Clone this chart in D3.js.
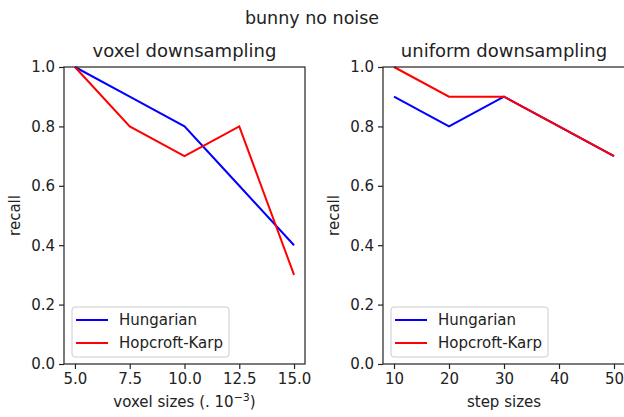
<!DOCTYPE html>
<html>
<head>
<meta charset="utf-8">
<script src="https://cdn.jsdelivr.net/npm/d3@7"></script>
<style>
body { margin: 0; background: #fff; }
text { font-family: "DejaVu Sans", sans-serif; fill: #222; }
.axis path, .axis line { stroke: #222; stroke-width: 1.2; }
.axis text { font-size: 15px; fill: #222; }
</style>
</head>
<body>
<svg id="chart" width="624" height="417"></svg>
<script>
// data
var voxelSizes = [5.0, 7.5, 10.0, 12.5, 15.0];
var voxelHungarian = [1.0, 0.9, 0.8, 0.6, 0.4];
var voxelHopcroft = [1.0, 0.8, 0.7, 0.8, 0.3];

var stepSizes = [10, 20, 30, 40, 50];
var stepHungarian = [0.9, 0.8, 0.9, 0.8, 0.7];
var stepHopcroft = [1.0, 0.9, 0.9, 0.8, 0.7];

var voxelTicks = [5.0, 7.5, 10.0, 12.5, 15.0];
var stepTicks = [10, 20, 30, 40, 50];
var yTicks = [0.0, 0.2, 0.4, 0.6, 0.8, 1.0];
var seriesNames = ["Hungarian", "Hopcroft-Karp"];
var seriesColors = ["#0000ff", "#ff0000"];

var svg = d3.select("#chart");

// figure title
svg.append("text")
  .attr("x", 312)
  .attr("y", 24)
  .style("text-anchor", "middle")
  .style("font-size", "17.5px")
  .text("bunny no noise");

function drawPanel(opt) {
  var top = 67, bottom = 364;
  var x = d3.scaleLinear().domain(opt.xDomain).range([opt.left, opt.right]);
  var y = d3.scaleLinear().domain([0, 1]).range([bottom, top]);

  var g = svg.append("g");

  // lines
  var line = d3.line()
    .x(function(d) { return x(d[0]); })
    .y(function(d) { return y(d[1]); });

  opt.series.forEach(function(s, i) {
    var pts = opt.xs.map(function(v, j) { return [v, s[j]]; });
    g.append("path")
      .datum(pts)
      .attr("fill", "none")
      .attr("stroke", seriesColors[i])
      .attr("stroke-width", 2)
      .attr("d", line);
  });

  // frame
  g.append("rect")
    .attr("x", opt.left)
    .attr("y", top)
    .attr("width", opt.right - opt.left)
    .attr("height", bottom - top)
    .attr("fill", "none")
    .attr("stroke", "#222")
    .attr("stroke-width", 1.2);

  // axes
  g.append("g")
    .attr("class", "axis")
    .attr("transform", "translate(0," + bottom + ")")
    .call(d3.axisBottom(x).tickValues(opt.xTicks).tickFormat(opt.xFormat).tickSizeOuter(0).tickSize(5).tickPadding(4))
    .select(".domain").remove();

  g.append("g")
    .attr("class", "axis")
    .attr("transform", "translate(" + opt.left + ",0)")
    .call(d3.axisLeft(y).tickValues(yTicks).tickFormat(d3.format(".1f")).tickSizeOuter(0).tickSize(5).tickPadding(4))
    .select(".domain").remove();

  // title
  g.append("text")
    .attr("x", (opt.left + opt.right) / 2)
    .attr("y", 57)
    .style("text-anchor", "middle")
    .style("font-size", "18px")
    .text(opt.title);

  // y label
  g.append("text")
    .attr("transform", "translate(" + (opt.left - 44) + "," + ((top + bottom) / 2) + ") rotate(-90)")
    .style("text-anchor", "middle")
    .style("font-size", "15px")
    .text("recall");

  // x label
  var xl = g.append("text")
    .attr("x", (opt.left + opt.right) / 2)
    .attr("y", 407)
    .style("text-anchor", "middle")
    .style("font-size", "15px");
  opt.xLabel(xl);

  // legend
  var lx = opt.left + 8, ly = 307;
  g.append("rect")
    .attr("x", lx)
    .attr("y", ly)
    .attr("width", 157)
    .attr("height", 50)
    .attr("rx", 3)
    .attr("fill", "#fff")
    .attr("fill-opacity", 0.8)
    .attr("stroke", "#ccc")
    .attr("stroke-width", 1);

  seriesNames.forEach(function(name, i) {
    var yy = ly + 13 + i * 23;
    g.append("line")
      .attr("x1", lx + 4).attr("x2", lx + 36)
      .attr("y1", yy).attr("y2", yy)
      .attr("stroke", seriesColors[i])
      .attr("stroke-width", 2);
    g.append("text")
      .attr("x", lx + 47)
      .attr("y", yy + 5)
      .style("font-size", "15px")
      .text(name);
  });
}

drawPanel({
  left: 64, right: 305,
  xDomain: [4.5, 15.5],
  xs: voxelSizes,
  series: [voxelHungarian, voxelHopcroft],
  xTicks: voxelTicks,
  xFormat: d3.format(".1f"),
  title: "voxel downsampling",
  xLabel: function(t) {
    t.append("tspan").text("voxel sizes (. 10");
    t.append("tspan").attr("dy", -6).style("font-size", "11px").text("\u22123");
    t.append("tspan").attr("dy", 6).text(")");
  }
});

drawPanel({
  left: 383, right: 625,
  xDomain: [8, 52],
  xs: stepSizes,
  series: [stepHungarian, stepHopcroft],
  xTicks: stepTicks,
  xFormat: d3.format("d"),
  title: "uniform downsampling",
  xLabel: function(t) { t.text("step sizes"); }
});
</script>
</body>
</html>
